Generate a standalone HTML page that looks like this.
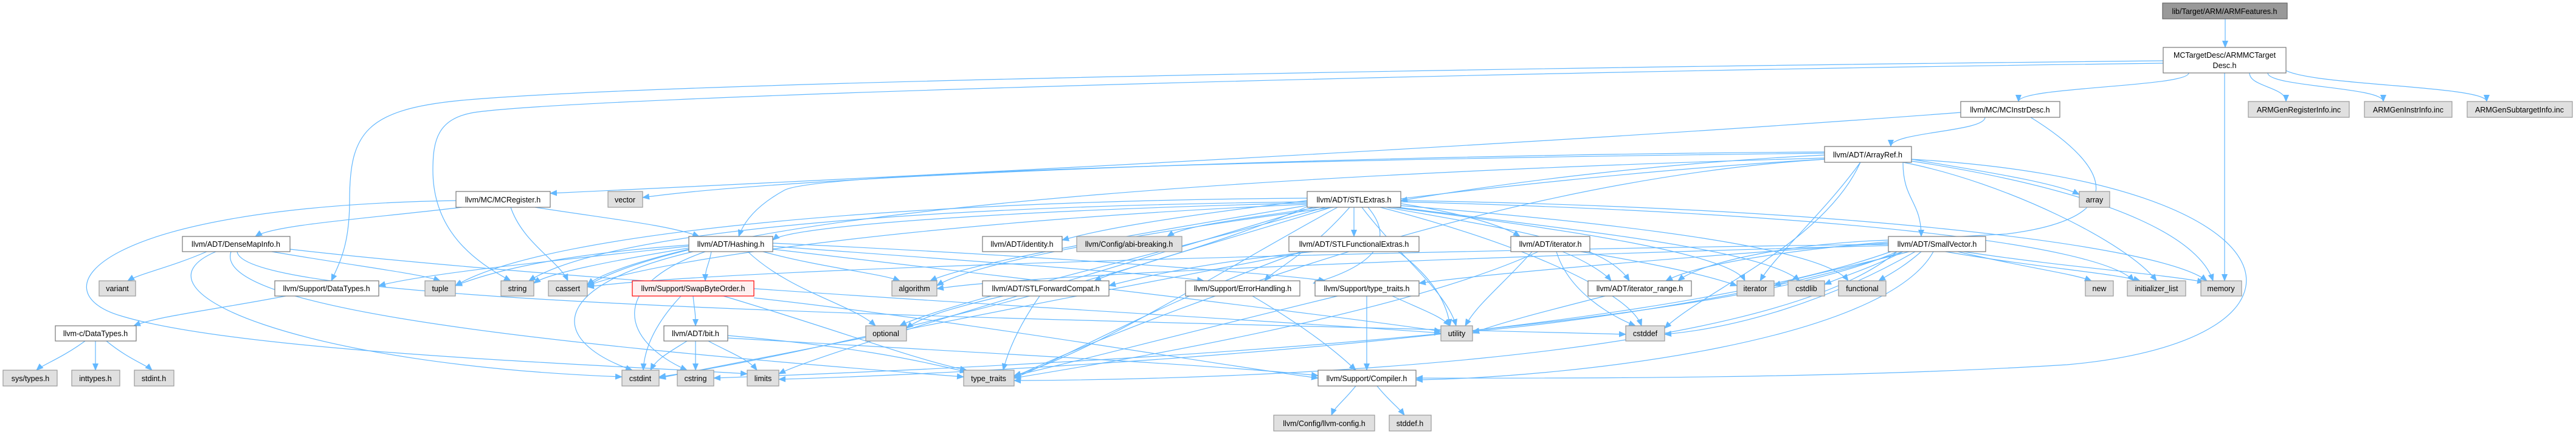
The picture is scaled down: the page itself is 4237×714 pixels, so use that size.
<!DOCTYPE html>
<html><head><meta charset="utf-8"><style>
html,body{margin:0;padding:0;background:#fff;}
svg{display:block;}
text{font-family:"Liberation Sans",Arial,sans-serif;font-size:12.5px;fill:#000;text-anchor:middle;}
.w{fill:#fff;stroke:#777;stroke-width:1.2;}
.g{fill:#e0e0e0;stroke:#999;stroke-width:1.2;}
.t{fill:#999;stroke:#666;stroke-width:1.2;}
.r{fill:#fff0f0;stroke:#f00;stroke-width:1.2;}
.e path{fill:none;stroke:#63b8ff;stroke-width:1.2;marker-end:url(#a);}
</style></head><body>
<svg width="4237" height="714" viewBox="0 0 4237 714" xmlns="http://www.w3.org/2000/svg">
<defs><marker id="a" markerUnits="userSpaceOnUse" markerWidth="12" markerHeight="10" refX="11" refY="5" orient="auto"><path d="M0,0 L12,5 L0,10 z" fill="#63b8ff"/></marker></defs>
<g class="e">
<path d="M3660,31 L3660,78"/>
<path d="M3600,120 C3600,143 3320,143 3320,167"/>
<path d="M3700,120 C3700,143 3760,143 3760,167"/>
<path d="M3730,120 C3730,143 3920,143 3920,167"/>
<path d="M3758,115 C3800,141 4090,141 4090,167"/>
<path d="M3659,120 L3659,462"/>
<path d="M3558,100 C2400,112 1100,135 760,165 C600,180 575,220 575,330 C575,400 560,430 545,462"/>
<path d="M3558,104 C2300,120 950,160 780,185 C720,195 712,230 712,280 C712,380 780,430 840,462"/>
<path d="M3265,193 C3265,217 3110,217 3110,241"/>
<path d="M3225,185 C2500,240 1500,290 905,318"/>
<path d="M3340,193 C3480,280 3500,360 3300,385 C3000,400 2800,430 2740,462"/>
<path d="M3001,252 C2300,260 1350,280 1290,313 C1250,335 1225,360 1215,389"/>
<path d="M3001,255 C2700,270 2450,305 2304,330"/>
<path d="M3130,267 C3130,330 3160,330 3160,389"/>
<path d="M3144,262 C3800,300 3850,560 3400,600 C3000,625 2500,622 2329,622"/>
<path d="M3001,262 C2500,290 1650,400 1541,470"/>
<path d="M3144,262 C3250,280 3380,300 3420,320"/>
<path d="M3001,260 C2300,280 1200,330 966,470"/>
<path d="M3060,267 C3000,400 2800,480 2738,540"/>
<path d="M3130,267 C3300,300 3500,400 3547,462"/>
<path d="M3060,267 C3000,350 2920,420 2895,462"/>
<path d="M3144,265 C3500,320 3620,400 3640,462"/>
<path d="M3001,262 C2400,300 1800,560 1668,620"/>
<path d="M3001,250 C2200,255 1300,290 1057,325"/>
<path d="M760,341 C600,360 450,370 420,389"/>
<path d="M880,341 C1000,360 1100,370 1150,389"/>
<path d="M840,341 C860,400 920,430 934,462"/>
<path d="M750,330 C150,340 60,480 200,520 C400,580 1000,600 1229,615"/>
<path d="M340,414 C280,440 230,450 210,462"/>
<path d="M447,414 C600,440 690,450 724,462"/>
<path d="M477,410 C1000,470 2000,520 2370,548"/>
<path d="M355,414 C200,480 500,600 1023,620"/>
<path d="M380,414 C350,500 800,560 1585,620"/>
<path d="M390,414 C400,500 1500,520 2674,550"/>
<path d="M1170,414 C1165,440 1160,440 1160,462"/>
<path d="M1133,405 C900,430 700,450 623,470"/>
<path d="M1271,405 C1600,430 1900,450 1980,462"/>
<path d="M1271,400 C1700,420 2100,450 2180,462"/>
<path d="M1255,414 C1350,440 1450,450 1480,462"/>
<path d="M1133,410 C1050,430 990,450 966,468"/>
<path d="M1160,414 C1000,470 1020,560 1130,609"/>
<path d="M1230,414 C1300,480 1400,500 1440,536"/>
<path d="M1133,408 C1000,430 900,450 878,466"/>
<path d="M1133,403 C900,420 800,450 749,470"/>
<path d="M1271,410 C1700,460 2200,520 2370,545"/>
<path d="M1140,414 C900,470 900,560 1040,609"/>
<path d="M1140,487 C1142,510 1144,510 1144,536"/>
<path d="M1120,487 C1080,530 1060,570 1058,609"/>
<path d="M1240,490 C1600,530 2000,600 2168,622"/>
<path d="M1190,487 C1400,550 1500,590 1590,609"/>
<path d="M1130,561 C1100,580 1080,590 1070,609"/>
<path d="M1144,561 L1144,609"/>
<path d="M1165,561 C1200,580 1230,590 1245,609"/>
<path d="M1197,552 C1400,570 1500,590 1590,612"/>
<path d="M1197,556 C1600,580 2000,600 2168,618"/>
<path d="M2150,330 C1900,360 1800,380 1747,395"/>
<path d="M2170,341 C2050,360 1950,370 1920,389"/>
<path d="M2227,341 L2227,389"/>
<path d="M2190,341 C2000,400 1850,440 1800,462"/>
<path d="M2220,341 C2150,420 2100,440 2080,462"/>
<path d="M2250,341 C2300,400 2250,440 2160,466"/>
<path d="M2304,335 C2400,350 2470,370 2500,389"/>
<path d="M2280,341 C2500,380 2640,400 2680,462"/>
<path d="M2150,334 C1700,345 1300,370 1271,395"/>
<path d="M2150,338 C1900,380 1600,430 1530,462"/>
<path d="M2150,336 C1600,360 1100,420 966,470"/>
<path d="M2270,341 C2500,400 2680,480 2700,536"/>
<path d="M2150,340 C1900,450 1300,590 1084,620"/>
<path d="M2300,341 C2600,380 2900,410 2960,462"/>
<path d="M2300,338 C2700,370 3000,410 3040,462"/>
<path d="M2304,332 C3000,350 3450,400 3510,462"/>
<path d="M2290,341 C2600,380 2850,420 2870,462"/>
<path d="M2160,341 C1800,450 1350,580 1281,615"/>
<path d="M2304,330 C3000,340 3550,400 3630,462"/>
<path d="M2180,341 C1900,420 1550,500 1480,536"/>
<path d="M2150,326 C1500,330 900,380 749,470"/>
<path d="M2200,341 C2000,450 1800,580 1668,618"/>
<path d="M2240,341 C2300,420 2380,480 2395,536"/>
<path d="M2150,332 C1500,340 1000,380 870,462"/>
<path d="M2160,414 C2000,430 1900,450 1824,470"/>
<path d="M2140,414 C1900,500 1750,590 1668,622"/>
<path d="M2150,414 C1800,480 1300,580 1084,622"/>
<path d="M2300,414 C2360,460 2380,500 2385,536"/>
<path d="M1650,487 C1550,510 1510,525 1491,540"/>
<path d="M1710,487 C1680,530 1660,570 1650,609"/>
<path d="M2060,487 C2150,540 2200,580 2230,609"/>
<path d="M2248,487 L2248,609"/>
<path d="M2200,487 C1900,560 1750,600 1668,618"/>
<path d="M2290,487 C2340,510 2370,520 2385,536"/>
<path d="M2570,414 C2610,430 2640,450 2650,462"/>
<path d="M2600,414 C2700,430 2800,450 2857,470"/>
<path d="M2560,414 C2580,480 2650,520 2690,536"/>
<path d="M2530,414 C2300,520 1800,600 1668,622"/>
<path d="M2520,414 C2470,470 2430,500 2410,536"/>
<path d="M2640,487 C2550,510 2470,530 2422,548"/>
<path d="M3180,414 C3100,560 2600,620 2329,625"/>
<path d="M3106,400 C2800,420 2450,450 2334,466"/>
<path d="M3106,404 C2500,420 1700,450 1541,475"/>
<path d="M3106,402 C2400,410 1200,440 966,472"/>
<path d="M3150,414 C3000,500 2850,540 2738,550"/>
<path d="M3130,414 C3080,440 3030,455 3001,468"/>
<path d="M3120,414 C2800,560 1500,610 1174,622"/>
<path d="M3160,414 C3130,440 3110,450 3090,462"/>
<path d="M3200,414 C3350,440 3480,450 3520,462"/>
<path d="M3140,414 C3040,440 2960,455 2918,470"/>
<path d="M3110,414 C2700,560 1600,615 1281,624"/>
<path d="M3230,414 C3400,440 3550,450 3625,464"/>
<path d="M3220,414 C3330,440 3410,450 3440,462"/>
<path d="M3120,414 C2900,600 2000,625 1668,626"/>
<path d="M3130,414 C2900,490 2550,535 2422,545"/>
<path d="M3106,395 C2950,400 2800,430 2760,462"/>
<path d="M2230,635 C2210,660 2195,670 2190,683"/>
<path d="M2265,635 C2285,660 2300,670 2310,683"/>
<path d="M470,487 C350,510 260,520 220,536"/>
<path d="M140,561 C100,590 70,600 60,609"/>
<path d="M157,561 L157,609"/>
<path d="M175,561 C210,590 240,600 250,609"/>
</g>
<g>
<rect class="t" x="3557" y="5" width="205" height="26"/><text x="3659" y="23">lib/Target/ARM/ARMFeatures.h</text>
<rect class="w" x="3558" y="78" width="202" height="42"/><text x="3659" y="95">MCTargetDesc/ARMMCTarget</text><text x="3659" y="112">Desc.h</text>
<rect class="w" x="3225" y="167" width="163" height="26"/><text x="3306" y="185">llvm/MC/MCInstrDesc.h</text>
<rect class="g" x="3698" y="167" width="166" height="26"/><text x="3781" y="185">ARMGenRegisterInfo.inc</text>
<rect class="g" x="3889" y="167" width="144" height="26"/><text x="3961" y="185">ARMGenInstrInfo.inc</text>
<rect class="g" x="4058" y="167" width="173" height="26"/><text x="4144" y="185">ARMGenSubtargetInfo.inc</text>
<rect class="w" x="3001" y="241" width="143" height="26"/><text x="3072" y="259">llvm/ADT/ArrayRef.h</text>
<rect class="w" x="750" y="315" width="155" height="26"/><text x="827" y="333">llvm/MC/MCRegister.h</text>
<rect class="g" x="1000" y="315" width="57" height="26"/><text x="1028" y="333">vector</text>
<rect class="w" x="2150" y="315" width="154" height="26"/><text x="2227" y="333">llvm/ADT/STLExtras.h</text>
<rect class="g" x="3420" y="315" width="50" height="26"/><text x="3445" y="333">array</text>
<rect class="w" x="300" y="389" width="177" height="25"/><text x="388" y="406">llvm/ADT/DenseMapInfo.h</text>
<rect class="w" x="1133" y="389" width="138" height="25"/><text x="1202" y="406">llvm/ADT/Hashing.h</text>
<rect class="w" x="1616" y="389" width="131" height="25"/><text x="1681" y="406">llvm/ADT/identity.h</text>
<rect class="g" x="1771" y="389" width="173" height="25"/><text x="1857" y="406">llvm/Config/abi-breaking.h</text>
<rect class="w" x="2120" y="389" width="214" height="25"/><text x="2227" y="406">llvm/ADT/STLFunctionalExtras.h</text>
<rect class="w" x="2485" y="389" width="130" height="25"/><text x="2550" y="406">llvm/ADT/iterator.h</text>
<rect class="w" x="3106" y="389" width="160" height="25"/><text x="3186" y="406">llvm/ADT/SmallVector.h</text>
<rect class="g" x="163" y="462" width="60" height="25"/><text x="193" y="479">variant</text>
<rect class="w" x="452" y="462" width="171" height="25"/><text x="537" y="479">llvm/Support/DataTypes.h</text>
<rect class="g" x="699" y="462" width="50" height="25"/><text x="724" y="479">tuple</text>
<rect class="g" x="824" y="462" width="54" height="25"/><text x="851" y="479">string</text>
<rect class="g" x="902" y="462" width="64" height="25"/><text x="934" y="479">cassert</text>
<rect class="r" x="1040" y="462" width="200" height="25"/><text x="1140" y="479">llvm/Support/SwapByteOrder.h</text>
<rect class="g" x="1467" y="462" width="74" height="25"/><text x="1504" y="479">algorithm</text>
<rect class="w" x="1616" y="462" width="208" height="25"/><text x="1720" y="479">llvm/ADT/STLForwardCompat.h</text>
<rect class="w" x="1950" y="462" width="188" height="25"/><text x="2044" y="479">llvm/Support/ErrorHandling.h</text>
<rect class="w" x="2163" y="462" width="171" height="25"/><text x="2248" y="479">llvm/Support/type_traits.h</text>
<rect class="w" x="2612" y="462" width="170" height="25"/><text x="2697" y="479">llvm/ADT/iterator_range.h</text>
<rect class="g" x="2857" y="462" width="61" height="25"/><text x="2887" y="479">iterator</text>
<rect class="g" x="2941" y="462" width="60" height="25"/><text x="2971" y="479">cstdlib</text>
<rect class="g" x="3024" y="462" width="78" height="25"/><text x="3063" y="479">functional</text>
<rect class="g" x="3430" y="462" width="46" height="25"/><text x="3453" y="479">new</text>
<rect class="g" x="3499" y="462" width="96" height="25"/><text x="3547" y="479">initializer_list</text>
<rect class="g" x="3620" y="462" width="67" height="25"/><text x="3653" y="479">memory</text>
<rect class="w" x="91" y="536" width="133" height="25"/><text x="157" y="553">llvm-c/DataTypes.h</text>
<rect class="w" x="1092" y="536" width="105" height="25"/><text x="1144" y="553">llvm/ADT/bit.h</text>
<rect class="g" x="1424" y="536" width="67" height="25"/><text x="1457" y="553">optional</text>
<rect class="g" x="2370" y="536" width="52" height="25"/><text x="2396" y="553">utility</text>
<rect class="g" x="2674" y="536" width="64" height="25"/><text x="2706" y="553">cstddef</text>
<rect class="g" x="5" y="609" width="89" height="26"/><text x="50" y="627">sys/types.h</text>
<rect class="g" x="118" y="609" width="79" height="26"/><text x="157" y="627">inttypes.h</text>
<rect class="g" x="221" y="609" width="65" height="26"/><text x="253" y="627">stdint.h</text>
<rect class="g" x="1023" y="609" width="61" height="26"/><text x="1053" y="627">cstdint</text>
<rect class="g" x="1114" y="609" width="60" height="26"/><text x="1144" y="627">cstring</text>
<rect class="g" x="1229" y="609" width="52" height="26"/><text x="1255" y="627">limits</text>
<rect class="g" x="1585" y="609" width="83" height="26"/><text x="1626" y="627">type_traits</text>
<rect class="w" x="2168" y="609" width="161" height="26"/><text x="2248" y="627">llvm/Support/Compiler.h</text>
<rect class="g" x="2095" y="683" width="166" height="26"/><text x="2178" y="701">llvm/Config/llvm-config.h</text>
<rect class="g" x="2285" y="683" width="69" height="26"/><text x="2319" y="701">stddef.h</text>
</g>
</svg>
</body></html>
